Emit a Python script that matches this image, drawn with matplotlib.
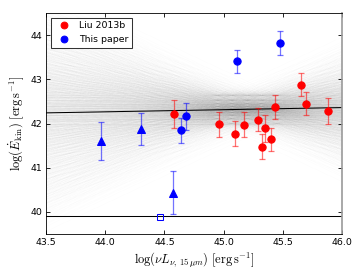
import itertools
import numpy as np
import matplotlib
matplotlib.use("Agg")
import matplotlib.pyplot as plt
from matplotlib.collections import LineCollection
from matplotlib.lines import Line2D

plt.rcParams["mathtext.fontset"] = "cm"
plt.rcParams["font.size"] = 9

# --- data ---
# Liu 2013b (red circles)
liu_x = [44.58, 44.96, 45.10, 45.17, 45.29, 45.35, 45.32, 45.40, 45.43, 45.65, 45.70, 45.88]
liu_y = [42.22, 41.98, 41.77, 41.97, 42.09, 41.89, 41.48, 41.65, 42.37, 42.88, 42.45, 42.28]
liu_err = [0.32, 0.29, 0.28, 0.28, 0.27, 0.30, 0.28, 0.26, 0.27, 0.26, 0.26, 0.29]

# This paper: circles
this_x = [44.64, 44.685, 45.11, 45.48]
this_y = [41.85, 42.16, 43.41, 43.82]
this_err = [0.28, 0.30, 0.26, 0.27]

# This paper: triangles
tri_x = [43.96, 44.30, 44.57]
tri_y = [41.60, 41.87, 40.44]
tri_err = [0.43, 0.36, 0.49]

# open square
sq_x = [44.46]
sq_y = [39.88]

# horizontal reference line
hline_y = 39.90

# best fit line: value at pivot and slope
pivot_x = 45.15
fit_at_pivot = 42.32
fit_slope = 0.048

# posterior draws of the fit: slope, offset at pivot, pivot position
draw_slopes = [-1.25, -1.05, -0.88, -0.74, -0.63, -0.53, -0.45, -0.38, -0.31,
               -0.25, -0.19, -0.14, -0.09, -0.04, 0.0, 0.04, 0.09, 0.14,
               0.19, 0.25, 0.31, 0.38, 0.45, 0.53, 0.63, 0.74, 0.88, 1.05, 1.25]
draw_offsets = [-0.32, -0.21, -0.13, -0.07, -0.02, 0.02, 0.07, 0.13, 0.21, 0.32]
draw_pivots = [44.95, 45.07, 45.2, 45.32, 45.45]

fig = plt.figure(figsize=(4.8, 3.6), dpi=75)
ax = fig.add_axes([0.128, 0.133, 0.822, 0.819])

xs = np.array([43.4, 46.1])
segs = []
for s, o, p in itertools.product(draw_slopes, draw_offsets, draw_pivots):
    segs.append(np.column_stack([xs, fit_at_pivot + o + s * (xs - p)]))
ax.add_collection(LineCollection(segs, colors="0.4", alpha=0.0095,
                                 linewidths=0.8, zorder=1))

ax.plot(xs, fit_at_pivot + fit_slope * (xs - pivot_x), color="k", lw=1, zorder=2)
ax.axhline(hline_y, color="k", lw=1, zorder=2)

ekw = dict(capsize=2.5, elinewidth=1.2, capthick=1.2, ls="none", zorder=3)
sets = [(liu_x, liu_y, liu_err, "o", "r"),
        (this_x, this_y, this_err, "o", "b"),
        (tri_x, tri_y, tri_err, "^", "b")]
for x, y, e, m, c in sets:
    eb = ax.errorbar(x, y, yerr=e, fmt=m, color=c, ms=7, mec=c, **ekw)
    eb[2][0].set_alpha(0.55)
    for cap in eb[1]:
        cap.set_alpha(0.55)
ax.plot(sq_x, sq_y, "s", mfc="none", mec="b", ms=6, mew=1, zorder=3)

ax.set_xlim(43.5, 46.0)
ax.set_ylim(39.5, 44.5)
ax.set_xticks([43.5, 44.0, 44.5, 45.0, 45.5, 46.0])
ax.set_yticks([40, 41, 42, 43, 44])
ax.tick_params(direction="in", top=True, right=True, labelsize=9, length=4)
ax.spines["right"].set_color("0.6")
ax.spines["right"].set_linewidth(1.6)

ax.set_xlabel(r"$\log(\nu L_{\nu,\,15\,\mu m})\ [{\rm erg\,s^{-1}}]$", fontsize=12)
ax.set_ylabel(r"$\log(\dot{E}_{\rm kin})\ [{\rm erg\,s^{-1}}]$", fontsize=12)

handles = [Line2D([], [], ls="none", marker="o", color="r", mec="r", ms=6.5),
           Line2D([], [], ls="none", marker="o", color="b", mec="b", ms=6.5)]
leg = ax.legend(handles, ["Liu 2013b", "This paper"], loc="upper left",
                numpoints=1, fontsize=9, fancybox=False, framealpha=1,
                handletextpad=0.6, borderpad=0.4)
leg.get_frame().set_edgecolor("0.2")

fig.savefig("out.png", dpi=75)
